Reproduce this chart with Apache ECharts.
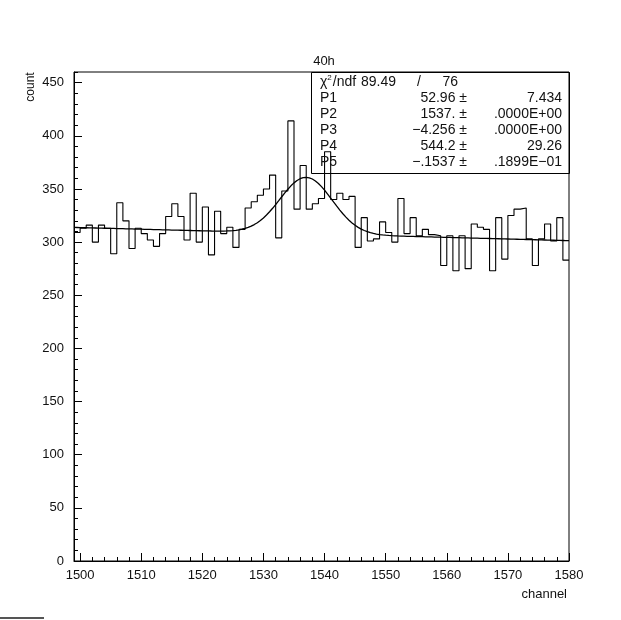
<!DOCTYPE html>
<html>
<head>
<meta charset="utf-8">
<script src="https://cdn.jsdelivr.net/npm/echarts@6/dist/echarts.min.js"></script>
<style>
  html, body { margin: 0; padding: 0; background: #ffffff; }
  #chart { width: 621px; height: 620px; }
</style>
</head>
<body>
<div id="chart"></div>
<script>
// Histogram "40h": counts per channel, each bin one channel wide (low edge listed)
const binLow = [
  1499, 1500, 1501, 1502, 1503, 1504, 1505, 1506, 1507, 1508,
  1509, 1510, 1511, 1512, 1513, 1514, 1515, 1516, 1517, 1518,
  1519, 1520, 1521, 1522, 1523, 1524, 1525, 1526, 1527, 1528,
  1529, 1530, 1531, 1532, 1533, 1534, 1535, 1536, 1537, 1538,
  1539, 1540, 1541, 1542, 1543, 1544, 1545, 1546, 1547, 1548,
  1549, 1550, 1551, 1552, 1553, 1554, 1555, 1556, 1557, 1558,
  1559, 1560, 1561, 1562, 1563, 1564, 1565, 1566, 1567, 1568,
  1569, 1570, 1571, 1572, 1573, 1574, 1575, 1576, 1577, 1578,
  1579
];
const counts = [
  309, 313, 316, 300, 316, 313, 289, 337, 320, 294,
  313, 308, 302, 296, 308, 324, 336, 324, 302, 346,
  300, 333, 288, 329, 308, 314, 295, 312, 332, 338,
  344, 350, 363, 304, 348, 414, 331, 372, 331, 336,
  341, 385, 340, 346, 340, 343, 295, 323, 301, 303,
  319, 309, 300, 341, 308, 323, 306, 312, 307, 306,
  278, 306, 273, 306, 275, 317, 314, 312, 273, 323,
  284, 325, 331, 332, 303, 278, 303, 317, 301, 323,
  283
];
const binWidth = 1;

// Axis ranges and labelled ticks
const xRange = [1499, 1580];
const xTickLabels = [1500, 1510, 1520, 1530, 1540, 1550, 1560, 1570, 1580];
const yRange = [0, 460];
const yTickLabels = [0, 50, 100, 150, 200, 250, 300, 350, 400, 450];

// Fit result: gaussian (P1 amplitude, P2 mean, P3 sigma) on a linear background (P4 + P5*x)
const fitNames = ['P1', 'P2', 'P3', 'P4', 'P5'];
const fitValues = [52.96, 1537.0, -4.256, 544.2, -0.1537];
const fitValueText = ['52.96', '1537.', '\u22124.256', '544.2', '\u2212.1537'];
const fitErrorText = ['7.434', '.0000E+00', '.0000E+00', '29.26', '.1899E\u221201'];
const chi2Text = '89.49';
const ndfText = '76';
const histTitle = '40h';

// ---- build series data ----
const histSteps = binLow.map((c, i) => [c, counts[i]]);
histSteps.push([binLow[binLow.length - 1] + binWidth, counts[counts.length - 1]]);

function fitFunction(x) {
  const [a, mean, sigma, c0, c1] = fitValues;
  const t = (x - mean) / sigma;
  return a * Math.exp(-0.5 * t * t) + c0 + c1 * x;
}
const fitCurve = [];
for (let x = xRange[0]; x <= xRange[1] + 1e-9; x += 0.25) {
  fitCurve.push([x, fitFunction(x)]);
}

// ---- layout ----
const G = { left: 74, top: 72, width: 495, height: 489 };
const FONT = '"Liberation Sans", Arial, sans-serif';
const INK = '#111111';
const STAT_FONT = '14px ' + FONT;

const statsBox = { x: 311, y: G.top, w: G.left + G.width - 311, h: 101 };
const rowY = [82, 98.5, 114.5, 130.5, 146.5, 162.5];

const graphics = [];
// histogram title above the plot
graphics.push({ type: 'text', style: { text: histTitle, x: 324, y: 61, textAlign: 'center', textVerticalAlign: 'middle', font: '13px ' + FONT, fill: INK } });
// axis titles
graphics.push({ type: 'text', rotation: Math.PI / 2, x: 31, y: 87, style: { text: 'count', x: 0, y: 0, textAlign: 'center', textVerticalAlign: 'middle', font: '12px ' + FONT, fill: INK } });
graphics.push({ type: 'text', style: { text: 'channel', x: 567, y: 594, textAlign: 'right', textVerticalAlign: 'middle', font: '13px ' + FONT, fill: INK } });
// fit statistics box
graphics.push({ type: 'rect', shape: { x: statsBox.x + 0.5, y: statsBox.y + 0.5, width: statsBox.w, height: statsBox.h }, style: { fill: 'none', stroke: '#000', lineWidth: 1 }, z: 10 });
graphics.push({
  type: 'text', z: 11,
  style: {
    text: '{g|\u03C7}{s|2}{g|/ndf}', x: 320, y: rowY[0], textVerticalAlign: 'middle',
    rich: { g: { font: STAT_FONT, fill: INK }, s: { font: '8px ' + FONT, fill: INK, padding: [0, 1, 8, 0] } }
  }
});
graphics.push({ type: 'text', z: 11, style: { text: chi2Text, x: 361, y: rowY[0], textVerticalAlign: 'middle', font: STAT_FONT, fill: INK } });
graphics.push({ type: 'text', z: 11, style: { text: '/', x: 419, y: rowY[0], textAlign: 'center', textVerticalAlign: 'middle', font: STAT_FONT, fill: INK } });
graphics.push({ type: 'text', z: 11, style: { text: ndfText, x: 458, y: rowY[0], textAlign: 'right', textVerticalAlign: 'middle', font: STAT_FONT, fill: INK } });
fitNames.forEach((name, i) => {
  const y = rowY[i + 1];
  graphics.push({ type: 'text', z: 11, style: { text: name, x: 320, y, textVerticalAlign: 'middle', font: STAT_FONT, fill: INK } });
  graphics.push({ type: 'text', z: 11, style: { text: fitValueText[i] + ' \u00B1', x: 467, y, textAlign: 'right', textVerticalAlign: 'middle', font: STAT_FONT, fill: INK } });
  graphics.push({ type: 'text', z: 11, style: { text: fitErrorText[i], x: 562, y, textAlign: 'right', textVerticalAlign: 'middle', font: STAT_FONT, fill: INK } });
});
// worn page edge at the lower left
graphics.push({ type: 'line', shape: { x1: 0, y1: 618, x2: 44, y2: 618 }, style: { stroke: '#555', lineWidth: 2 } });

const axisLineStyle = { lineStyle: { color: '#000', width: 1 } };
const labelStyle = { color: INK, fontFamily: FONT, fontSize: 13 };

const option = {
  animation: false,
  backgroundColor: '#ffffff',
  grid: { left: G.left, top: G.top, width: G.width, height: G.height, show: true, borderColor: '#000', borderWidth: 1, backgroundColor: 'transparent' },
  xAxis: [
    {
      type: 'value', position: 'bottom', min: xRange[0], max: xRange[1], splitNumber: 8,
      axisLine: { show: true, onZero: false, ...axisLineStyle },
      axisTick: { show: true, inside: true, length: 8, lineStyle: { color: '#000', width: 1 } },
      axisLabel: {
        ...labelStyle, margin: 8, showMinLabel: false,
        formatter: v => (xTickLabels.indexOf(Math.round(v)) >= 0 && Math.abs(v - Math.round(v)) < 1e-6 ? String(Math.round(v)) : '')
      },
      splitLine: { show: false }
    },
    {
      type: 'value', position: 'bottom', offset: 0, min: xRange[0], max: xRange[1], splitNumber: 40,
      axisLine: { show: false },
      axisTick: { show: true, inside: true, length: 4, lineStyle: { color: '#000', width: 1 } },
      axisLabel: { show: false },
      splitLine: { show: false }
    }
  ],
  yAxis: [
    {
      type: 'value', position: 'left', min: yRange[0], max: yRange[1], interval: 50,
      axisLine: { show: true, onZero: false, ...axisLineStyle },
      axisTick: { show: true, inside: true, length: 8, lineStyle: { color: '#000', width: 1 } },
      axisLabel: {
        ...labelStyle, margin: 10, showMaxLabel: false,
        formatter: v => (yTickLabels.indexOf(v) >= 0 ? String(v) : '')
      },
      splitLine: { show: false }
    },
    {
      type: 'value', position: 'left', offset: 0, min: yRange[0], max: yRange[1], interval: 10,
      axisLine: { show: false },
      axisTick: { show: true, inside: true, length: 4, lineStyle: { color: '#000', width: 1 } },
      axisLabel: { show: false },
      splitLine: { show: false }
    }
  ],
  series: [
    {
      name: histTitle, type: 'line', step: 'end', data: histSteps,
      xAxisIndex: 0, yAxisIndex: 0, showSymbol: false, symbol: 'none',
      lineStyle: { color: '#000', width: 1.1 }, silent: true, z: 3
    },
    {
      name: 'fit', type: 'line', data: fitCurve,
      xAxisIndex: 0, yAxisIndex: 0, showSymbol: false, symbol: 'none', smooth: false,
      lineStyle: { color: '#000', width: 1.3 }, silent: true, z: 4
    }
  ],
  graphic: graphics
};

const chart = echarts.init(document.getElementById('chart'), null, { renderer: 'canvas' });
chart.setOption(option);
</script>
</body>
</html>
